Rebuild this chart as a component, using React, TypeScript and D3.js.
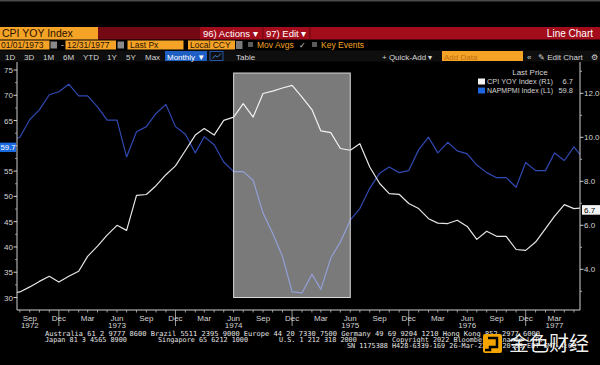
import React from 'react';
import * as d3 from 'd3';

// ---- data (monthly, starting Jul 1972) ----
const startMonth = new Date(1972, 6, 1);
const pmiValues = [
  61.0, 61.7, 65.2, 67.1, 70.1, 70.7, 72.2, 69.9, 69.9, 67.7, 65.1, 65.1,
  57.8, 62.8, 63.8, 66.4, 68.2, 63.8, 62.3, 58.6, 61.8, 60.2, 56.8, 54.9,
  54.9, 53.2, 46.7, 42.7, 38.1, 31.1, 30.9, 34.6, 31.6, 37.8, 41.0, 45.3,
  47.6, 51.6, 54.6, 55.8, 54.7, 55.1, 59.2, 61.7, 58.6, 60.7, 59.0, 58.4,
  56.2, 54.7, 53.7, 53.7, 51.8, 56.7, 55.1, 55.1, 58.6, 57.1, 59.8, 57.3,
];
const cpiValues = [
  2.9, 2.97, 3.2, 3.45, 3.68, 3.42, 3.68, 3.91, 4.59, 5.05, 5.55, 6.0,
  5.77, 7.36, 7.4, 7.8, 8.3, 8.7, 9.4, 10.1, 10.4, 10.1, 10.77, 10.92,
  11.53, 10.92, 11.99, 12.1, 12.24, 12.36, 11.83, 11.26, 10.29, 10.21, 9.49, 9.41,
  9.71, 8.65, 7.9, 7.44, 7.41, 6.99, 6.76, 6.3, 6.1, 6.08, 6.23, 5.95,
  5.36, 5.73, 5.5, 5.5, 4.9, 4.86, 5.24, 5.85, 6.41, 6.94, 6.76, 6.8,
];
const months = pmiValues.map((_, i) => d3.timeMonth.offset(startMonth, i));

const leftTicks = [30, 35, 40, 45, 50, 55, 60, 65, 70, 75];
const leftMinor = [27.5, 32.5, 37.5, 42.5, 47.5, 52.5, 57.5, 62.5, 67.5, 72.5];
const rightTicks = [4, 6, 8, 10, 12];
const rightMinor = [3, 5, 7, 9, 11, 13];
const yearLabels = [
  { date: new Date(1972, 8, 1), label: '1972' },
  { date: new Date(1973, 5, 1), label: '1973' },
  { date: new Date(1974, 5, 1), label: '1974' },
  { date: new Date(1975, 5, 1), label: '1975' },
  { date: new Date(1976, 5, 1), label: '1976' },
  { date: new Date(1977, 2, 1), label: '1977' },
];
const highlightDates = [new Date(1974, 5, 1), new Date(1975, 5, 1)];
const highlightLeftRange = [30, 74.4];
const lastCpi = '6.7';
const lastPmi = '59.8';
const pmiAxisValue = 59.7;

const periodButtons = ['1D', '3D', '1M', '6M', 'YTD', '1Y', '5Y', 'Max'];
const periodX = [5, 24, 43, 63, 83, 107, 126, 145];

const footer1 = 'Australia 61 2 9777 8600 Brazil 5511 2395 9000 Europe 44 20 7330 7500 Germany 49 69 9204 1210 Hong Kong 852 2977 6000';
const footer2 = [
  { x: 45, t: 'Japan 81 3 4565 8900' },
  { x: 158, t: 'Singapore 65 6212 1000' },
  { x: 279, t: 'U.S. 1 212 318 2000' },
  { x: 392, t: 'Copyright 2022 Bloomberg Finance L.P.' },
];
const footer3 = 'SN 1175388 H428-6339-169 26-Mar-22 12:20:03 EDT  GMT-4:00';

const W = 600, H = 365;
const L = 17, R = 580, T = 62, B = 310;

export default function App() {
  const x = d3.scaleTime()
    .domain([new Date(1972, 6, 23), new Date(1977, 4, 20)])
    .range([L, R]);
  const yL = d3.scaleLinear().domain([30, 75]).range([297.5, 70]);
  const yR = d3.scaleLinear().domain([4, 12]).range([269.3, 93.3]);

  const pmiLine = d3.line<number>()
    .x((_, i) => x(months[i]))
    .y((d) => yL(d));
  const cpiLine = d3.line<number>()
    .x((_, i) => x(months[i]))
    .y((d) => yR(d));

  const tickMonths = d3.timeMonth.range(new Date(1972, 7, 1), new Date(1977, 5, 1))
    .filter((d) => x(d) >= L && x(d) <= R);
  const qMonths = tickMonths.filter((d) => d.getMonth() % 3 === 2);
  const fmt = d3.timeFormat('%b');

  const axisFont = 'Liberation Sans, Arial, sans-serif';
  const mono = 'DejaVu Sans Mono, monospace';
  const orange = '#f4a326';
  const txtGray = '#d4d4d4';
  const pmiLabelY = yL(pmiAxisValue);

  return (
    <div style={{ position: 'fixed', left: 0, top: 0, width: W, height: H, background: '#000' }}>
      <svg width={W} height={H} style={{ display: 'block', background: '#000' }}>
        <defs>
          <clipPath id="plotclip">
            <rect x={L} y={T} width={R - L} height={B - T} />
          </clipPath>
        </defs>
        <rect x={0} y={0} width={W} height={H} fill="#000" />
        <rect x={0} y={0} width={W} height={1.5} fill="#4a4a4a" />

        {/* header row 1 */}
        <rect x={0} y={27} width={98} height={12.5} fill={orange} />
        <text x={2} y={37.3} fontSize={10.5} fontFamily={axisFont} fill="#2a1200">CPI YOY Index</text>
        <rect x={98} y={27} width={102} height={12.5} fill="#730913" />
        <rect x={200} y={27} width={400} height={12.5} fill="#a30d1b" />
        <rect x={262.5} y={27} width={0.8} height={12.5} fill="#5a050c" />
        <rect x={309.5} y={27} width={0.8} height={12.5} fill="#5a050c" />
        <text x={203} y={37} fontSize={9.5} fontFamily={axisFont} fill="#fff">96) Actions ▾</text>
        <text x={266} y={37} fontSize={9.5} fontFamily={axisFont} fill="#fff">97) Edit ▾</text>
        <text x={593} y={37} fontSize={10} fontFamily={axisFont} fill="#fff" textAnchor="end">Line Chart</text>

        {/* header row 2 */}
        <rect x={0} y={40.5} width={49.5} height={9} fill={orange} />
        <text x={1} y={48.4} fontSize={8.5} fontFamily={axisFont} fill="#2a1200">01/01/1973</text>
        <rect x={50.5} y={41.5} width={6.5} height={7} fill="#8a8a8a" />
        <text x={61} y={48.4} fontSize={8.5} fontFamily={axisFont} fill={txtGray}>-</text>
        <rect x={65.5} y={40.5} width={50.5} height={9} fill={orange} />
        <text x={67} y={48.4} fontSize={8.5} fontFamily={axisFont} fill="#2a1200">12/31/1977</text>
        <rect x={117.5} y={41.5} width={6.5} height={7} fill="#8a8a8a" />
        <rect x={127.5} y={40.5} width={56} height={9} fill={orange} />
        <text x={130} y={48.4} fontSize={8.5} fontFamily={axisFont} fill="#2a1200">Last Px</text>
        <rect x={188} y={40.5} width={47} height={9} fill={orange} />
        <text x={190} y={48.4} fontSize={8.5} fontFamily={axisFont} fill="#2a1200">Local CCY</text>
        <rect x={236} y={41} width={6.5} height={8} fill="#7a7a7a" />
        <rect x={248} y={42} width={5} height={5} fill="#5a5a5a" />
        <text x={257} y={48.4} fontSize={8.5} fontFamily={axisFont} fill={orange}>Mov Avgs</text>
        <text x={299} y={48.4} fontSize={8} fontFamily={axisFont} fill={txtGray}>✓</text>
        <rect x={312} y={42} width={5} height={5} fill="#5a5a5a" />
        <text x={321} y={48.4} fontSize={8.5} fontFamily={axisFont} fill={orange}>Key Events</text>

        {/* header row 3 */}
        <rect x={0} y={50.5} width={W} height={11} fill="#0e0e0e" />
        {periodButtons.map((p, i) => (
          <text key={p} x={periodX[i]} y={59.5} fontSize={8} fontFamily={axisFont} fill={txtGray}>{p}</text>
        ))}
        <rect x={165} y={51} width={42} height={10} fill="#1f5fc4" />
        <text x={167} y={59.5} fontSize={8} fontFamily={axisFont} fill="#fff">Monthly ▼</text>
        <rect x={210} y={51.5} width={13} height={9} fill="#0e0e0e" stroke="#2a6ad0" strokeWidth={0.8} />
        <path d="M212.5,58.5 L215,55.5 L217.5,57 L221,53.5" fill="none" stroke="#4a8ae8" strokeWidth={0.9} />
        <text x={236} y={59.5} fontSize={8} fontFamily={axisFont} fill={txtGray}>Table</text>
        <text x={382} y={59.5} fontSize={8} fontFamily={axisFont} fill={txtGray}>+ Quick-Add ▾</text>
        <rect x={442} y={51} width={81} height={10} fill={orange} />
        <text x={444} y={59.5} fontSize={8} fontFamily={axisFont} fill="#c07010">Add Data</text>
        <text x={527} y={59.5} fontSize={8} fontFamily={axisFont} fill={txtGray}>«</text>
        <text x={538} y={59.5} fontSize={8} fontFamily={axisFont} fill={txtGray}>✎ Edit Chart</text>
        <text x={591} y={59.5} fontSize={8} fontFamily={axisFont} fill={txtGray}>⚙</text>

        {/* lines */}
        <g clipPath="url(#plotclip)">
          <path d={pmiLine(pmiValues) || ''} fill="none" stroke="#3149b2" strokeWidth={1.2} strokeLinejoin="round" />
          <path d={cpiLine(cpiValues) || ''} fill="none" stroke="#e6e6e6" strokeWidth={1.2} strokeLinejoin="round" />
        </g>

        {/* highlight */}
        <rect
          x={x(highlightDates[0])}
          y={yL(highlightLeftRange[1])}
          width={x(highlightDates[1]) - x(highlightDates[0])}
          height={yL(highlightLeftRange[0]) - yL(highlightLeftRange[1])}
          fill="#ffffff"
          fillOpacity={0.48}
          stroke="#d8d8d8"
          strokeWidth={1}
        />

        {/* left axis */}
        <line x1={L} x2={L} y1={T} y2={B} stroke="#cfcfcf" strokeWidth={1} />
        {leftTicks.map((t) => (
          <g key={t}>
            <line x1={L - 3.5} x2={L} y1={yL(t)} y2={yL(t)} stroke="#cfcfcf" />
            {Math.abs(yL(t) - pmiLabelY) > 9 && (
              <text x={L - 4} y={yL(t) + 3} fontSize={8} fontFamily={axisFont} fill={txtGray} textAnchor="end">{t}</text>
            )}
          </g>
        ))}
        {leftMinor.filter((t) => yL(t) > T && yL(t) < B).map((t) => (
          <line key={t} x1={L - 1.8} x2={L} y1={yL(t)} y2={yL(t)} stroke="#aaaaaa" />
        ))}
        <rect x={0} y={pmiLabelY - 4.7} width={16} height={9.4} fill="#1a6ae0" />
        <text x={0.5} y={pmiLabelY + 2.8} fontSize={7.5} fontFamily={axisFont} fill="#fff" textLength={15} lengthAdjust="spacingAndGlyphs">{d3.format('.1f')(pmiAxisValue)}</text>

        {/* right axis */}
        <line x1={R} x2={R} y1={T} y2={B} stroke="#cfcfcf" strokeWidth={1} />
        {rightTicks.map((t) => (
          <g key={t}>
            <line x1={R} x2={R + 3.5} y1={yR(t)} y2={yR(t)} stroke="#cfcfcf" />
            <text x={R + 4} y={yR(t) + 3} fontSize={8} fontFamily={axisFont} fill={txtGray}>{d3.format('.1f')(t)}</text>
          </g>
        ))}
        {rightMinor.filter((t) => yR(t) > T && yR(t) < B).map((t) => (
          <line key={t} x1={R} x2={R + 2} y1={yR(t)} y2={yR(t)} stroke="#aaaaaa" />
        ))}
        <rect x={R + 2} y={yR(6.7) - 4.8} width={W - R - 2} height={9.6} fill="#f2f2f2" />
        <text x={R + 4} y={yR(6.7) + 2.9} fontSize={8} fontFamily={axisFont} fill="#000">{lastCpi}</text>

        {/* x axis */}
        <line x1={L} x2={R} y1={B} y2={B} stroke="#cfcfcf" strokeWidth={1} />
        {tickMonths.map((d, i) => (
          <line key={i} x1={x(d)} x2={x(d)} y1={B} y2={d.getMonth() === 11 ? 326 : B + 2.5} stroke="#bdbdbd" strokeWidth={0.8} />
        ))}
        {qMonths.map((d, i) => (
          <text key={i} x={x(d)} y={320.5} fontSize={8} fontFamily={axisFont} fill={txtGray} textAnchor="middle">{fmt(d)}</text>
        ))}
        {yearLabels.map((yl) => (
          <text key={yl.label} x={x(yl.date)} y={328} fontSize={8} fontFamily={axisFont} fill={txtGray} textAnchor="middle">{yl.label}</text>
        ))}

        {/* legend */}
        <text x={530} y={75} fontSize={8} fontFamily={axisFont} fill={txtGray} textAnchor="middle">Last Price</text>
        <rect x={478} y={78.5} width={7} height={6} fill="#f4f4f4" />
        <text x={487} y={84.3} fontSize={7.5} fontFamily={axisFont} fill={txtGray} textLength={66} lengthAdjust="spacingAndGlyphs">CPI YOY Index  (R1)</text>
        <text x={573} y={84.3} fontSize={7.5} fontFamily={axisFont} fill={txtGray} textAnchor="end">{lastCpi}</text>
        <rect x={478} y={87.5} width={7} height={6} fill="#1e64dc" />
        <text x={487} y={93.3} fontSize={7.5} fontFamily={axisFont} fill={txtGray} textLength={66} lengthAdjust="spacingAndGlyphs">NAPMPMI Index  (L1)</text>
        <text x={573} y={93.3} fontSize={7.5} fontFamily={axisFont} fill={txtGray} textAnchor="end">{lastPmi}</text>

        {/* footer */}
        <text x={45} y={336} fontSize={6.8} fontFamily={mono} fill="#e4e4e4" textLength={495} lengthAdjust="spacingAndGlyphs">{footer1}</text>
        {footer2.map((f) => (
          <text key={f.x} x={f.x} y={341.9} fontSize={6.8} fontFamily={mono} fill="#e4e4e4">{f.t}</text>
        ))}
        <text x={347} y={347.8} fontSize={6.8} fontFamily={mono} fill="#e4e4e4">{footer3}</text>

        {/* watermark */}
        <g>
          <rect x={483} y={334} width={19} height={19} rx={2} fill="#f5a500" />
          <path d="M488,338 L497,338 L497,347 L490,347 L490,350 L485,350" fill="none" stroke="#000" strokeWidth={2.5} />
          <text x={509} y={351} fontSize={20} fontFamily="Noto Sans CJK SC, sans-serif" fill="#ffffff" fillOpacity={0.95}>金色财经</text>
        </g>
      </svg>
    </div>
  );
}
